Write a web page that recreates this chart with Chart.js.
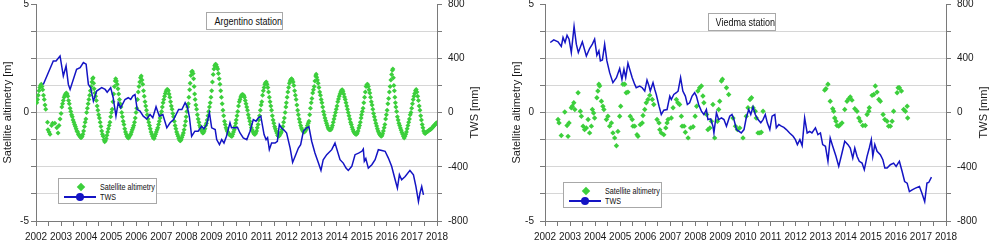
<!DOCTYPE html>
<html><head><meta charset="utf-8">
<script src="https://cdn.jsdelivr.net/npm/chart.js@4.4.1/dist/chart.umd.min.js"></script>
<style>
html,body{margin:0;padding:0;background:#fff;overflow:hidden}
#wrap{position:relative;width:989px;height:243px;background:#fff;font-family:"Liberation Sans",Arial,sans-serif}
canvas{position:absolute;top:0}
.tbox{position:absolute;border:1px solid #a8a8a8;background:#fff;box-sizing:border-box;text-align:center;color:#111;white-space:nowrap;overflow:hidden}
.tbox span{display:inline-block;transform:scaleX(0.82);transform-origin:center}
.lbox{position:absolute;border:1px solid #a8a8a8;background:#fff;box-sizing:border-box}
.lbox div{position:absolute}
.ltxt{color:#111;white-space:nowrap;line-height:10px;transform:scaleX(0.8);transform-origin:left center}
</style></head>
<body>
<div id="wrap">
  <canvas id="cA" width="494" height="243" style="left:0px"></canvas>
  <canvas id="cV" width="495" height="243" style="left:494px"></canvas>
</div>
<script>
// ---------------- DATA ----------------
const yearRange = [2002, 2018];
const altimetryRange = [-5, 5];
const twsRange = [-800, 800];
const stationNames = ['Argentino station', 'Viedma station'];
const seriesNames = ['Satellite altimetry', 'TWS'];

// Argentino: satellite altimetry [m] (decimal year, value)
const argentinoAltimetry = [
[2002.00,0.5],[2002.03,0.45],[2002.06,0.6],[2002.09,0.8],[2002.12,1.0],[2002.15,1.15],[2002.18,1.25],[2002.21,1.3],[2002.24,1.2],[2002.27,1.05],[2002.30,0.8],[2002.33,0.6],[2002.36,0.35],[2002.39,0.15],[2002.46,-0.45],[2002.48,-0.8],[2002.52,-0.9],[2002.56,-1.0],[2002.62,-0.6],[2002.66,-0.5],[2002.75,-0.5],[2002.83,-0.7],[2002.88,-0.95],[2002.92,-0.6],[2002.96,-0.3],
[2003.00,-0.05],[2003.03,0.25],[2003.06,0.4],[2003.09,0.55],[2003.12,0.7],[2003.15,0.8],[2003.18,0.85],[2003.21,0.9],[2003.24,0.85],[2003.27,0.75],[2003.30,0.55],[2003.33,0.4],[2003.36,0.2],[2003.39,0.05],[2003.42,-0.1],[2003.45,-0.2],[2003.48,-0.35],[2003.51,-0.45],[2003.54,-0.55],[2003.57,-0.65],[2003.60,-0.75],[2003.63,-0.85],[2003.66,-0.9],[2003.69,-1.0],[2003.72,-1.05],[2003.75,-1.1],[2003.78,-1.15],[2003.81,-1.15],[2003.84,-1.1],[2003.87,-1.0],[2003.90,-0.85],[2003.93,-0.65],[2003.96,-0.45],[2003.99,-0.3],
[2004.02,0.0],[2004.05,0.2],[2004.08,0.4],[2004.11,0.6],[2004.14,0.8],[2004.17,1.0],[2004.20,1.2],[2004.23,1.4],[2004.26,1.55],[2004.28,1.6],[2004.30,1.35],[2004.32,1.1],[2004.35,0.9],[2004.38,0.75],[2004.41,0.55],[2004.44,0.3],[2004.47,0.1],[2004.50,-0.1],[2004.53,-0.25],[2004.56,-0.45],[2004.59,-0.65],[2004.62,-0.85],[2004.65,-1.0],[2004.68,-1.1],[2004.71,-1.25],[2004.74,-1.35],[2004.77,-1.3],[2004.80,-1.2],[2004.83,-1.05],[2004.86,-0.9],[2004.89,-0.75],[2004.92,-0.6],[2004.95,-0.45],[2004.98,-0.2],
[2005.01,0.0],[2005.04,0.15],[2005.07,0.5],[2005.10,0.85],[2005.13,1.2],[2005.16,1.45],[2005.18,1.55],[2005.21,1.45],[2005.24,1.3],[2005.27,1.1],[2005.30,0.85],[2005.33,0.6],[2005.36,0.4],[2005.39,0.25],[2005.42,0.0],[2005.45,-0.2],[2005.48,-0.4],[2005.51,-0.55],[2005.54,-0.75],[2005.57,-0.9],[2005.60,-1.0],[2005.63,-1.1],[2005.66,-1.15],[2005.69,-1.17],[2005.72,-1.12],[2005.75,-1.05],[2005.78,-1.0],[2005.81,-0.9],[2005.84,-0.8],[2005.87,-0.7],[2005.90,-0.6],[2005.93,-0.45],[2005.96,-0.25],[2005.99,0.0],
[2006.02,0.2],[2006.05,0.6],[2006.08,0.95],[2006.11,1.2],[2006.14,1.4],[2006.17,1.6],[2006.20,1.68],[2006.23,1.5],[2006.26,1.3],[2006.29,1.0],[2006.32,0.75],[2006.35,0.5],[2006.38,0.3],[2006.41,0.1],[2006.44,-0.1],[2006.47,-0.3],[2006.50,-0.45],[2006.53,-0.6],[2006.56,-0.75],[2006.59,-0.9],[2006.62,-1.0],[2006.65,-1.1],[2006.68,-1.18],[2006.71,-1.2],[2006.74,-1.1],[2006.77,-1.0],[2006.80,-0.9],[2006.83,-0.8],[2006.86,-0.7],[2006.89,-0.55],[2006.92,-0.4],[2006.95,-0.25],[2006.98,-0.1],
[2007.01,0.05],[2007.04,0.25],[2007.07,0.45],[2007.10,0.6],[2007.13,0.75],[2007.16,0.88],[2007.19,0.98],[2007.22,1.05],[2007.25,1.06],[2007.28,1.0],[2007.31,0.85],[2007.34,0.7],[2007.37,0.5],[2007.40,0.3],[2007.43,0.15],[2007.46,-0.05],[2007.49,-0.2],[2007.52,-0.4],[2007.55,-0.6],[2007.58,-0.75],[2007.61,-0.9],[2007.64,-1.0],[2007.67,-1.1],[2007.70,-1.2],[2007.73,-1.28],[2007.76,-1.3],[2007.79,-1.25],[2007.82,-1.15],[2007.85,-1.05],[2007.88,-0.95],[2007.91,-0.8],[2007.94,-0.6],[2007.97,-0.4],[2007.99,-0.2],
[2008.02,0.05],[2008.05,0.25],[2008.08,0.4],[2008.10,0.7],[2008.13,1.05],[2008.15,1.35],[2008.18,1.7],[2008.21,1.88],[2008.24,1.9],[2008.27,1.8],[2008.29,1.55],[2008.31,1.2],[2008.33,0.85],[2008.35,0.6],[2008.38,0.35],[2008.41,0.15],[2008.44,-0.1],[2008.47,-0.3],[2008.50,-0.45],[2008.53,-0.6],[2008.56,-0.7],[2008.59,-0.8],[2008.62,-0.88],[2008.65,-0.95],[2008.68,-0.93],[2008.71,-0.85],[2008.74,-0.75],[2008.77,-0.6],[2008.80,-0.5],[2008.83,-0.35],[2008.86,-0.15],[2008.89,0.05],[2008.92,0.25],[2008.95,0.45],[2008.98,0.7],
[2009.01,1.0],[2009.04,1.4],[2009.07,1.75],[2009.10,2.0],[2009.13,2.15],[2009.16,2.22],[2009.19,2.2],[2009.22,2.1],[2009.25,2.0],[2009.28,1.8],[2009.31,1.55],[2009.34,1.3],[2009.37,1.0],[2009.40,0.7],[2009.43,0.4],[2009.46,0.1],[2009.49,-0.15],[2009.52,-0.4],[2009.55,-0.55],[2009.58,-0.7],[2009.61,-0.8],[2009.64,-0.88],[2009.67,-0.95],[2009.70,-1.0],[2009.73,-1.03],[2009.76,-1.05],[2009.79,-1.1],[2009.82,-1.1],[2009.85,-1.0],[2009.88,-0.9],[2009.91,-0.8],[2009.94,-0.65],[2009.97,-0.5],[2009.99,-0.35],
[2010.02,-0.15],[2010.05,0.05],[2010.08,0.3],[2010.11,0.5],[2010.14,0.6],[2010.17,0.72],[2010.20,0.8],[2010.23,0.83],[2010.26,0.82],[2010.29,0.78],[2010.32,0.7],[2010.35,0.55],[2010.38,0.4],[2010.41,0.25],[2010.44,0.1],[2010.47,-0.1],[2010.50,-0.25],[2010.53,-0.4],[2010.56,-0.55],[2010.59,-0.7],[2010.62,-0.8],[2010.65,-0.88],[2010.68,-0.95],[2010.71,-1.0],[2010.74,-1.0],[2010.77,-0.95],[2010.80,-0.85],[2010.83,-0.7],[2010.86,-0.55],[2010.89,-0.35],[2010.92,-0.15],[2010.95,0.1],[2010.98,0.35],
[2011.01,0.5],[2011.04,0.8],[2011.07,1.0],[2011.10,1.15],[2011.13,1.3],[2011.16,1.37],[2011.19,1.4],[2011.22,1.3],[2011.25,1.15],[2011.28,0.95],[2011.31,0.7],[2011.34,0.5],[2011.37,0.3],[2011.40,0.1],[2011.43,-0.15],[2011.46,-0.35],[2011.49,-0.5],[2011.52,-0.65],[2011.55,-0.75],[2011.58,-0.85],[2011.61,-0.95],[2011.64,-1.05],[2011.67,-1.1],[2011.70,-1.08],[2011.73,-1.03],[2011.76,-0.97],[2011.79,-0.9],[2011.82,-0.78],[2011.85,-0.65],[2011.88,-0.45],[2011.91,-0.25],[2011.94,0.0],[2011.97,0.25],[2011.99,0.45],
[2012.02,0.7],[2012.05,0.95],[2012.08,1.15],[2012.11,1.35],[2012.14,1.45],[2012.17,1.52],[2012.20,1.55],[2012.23,1.5],[2012.26,1.4],[2012.29,1.25],[2012.32,1.0],[2012.35,0.8],[2012.38,0.6],[2012.41,0.35],[2012.44,0.1],[2012.47,-0.1],[2012.50,-0.3],[2012.53,-0.45],[2012.56,-0.6],[2012.59,-0.72],[2012.62,-0.8],[2012.65,-0.85],[2012.68,-0.9],[2012.71,-0.9],[2012.74,-0.85],[2012.77,-0.8],[2012.80,-0.72],[2012.83,-0.6],[2012.86,-0.5],[2012.89,-0.4],[2012.92,-0.1],[2012.95,0.2],[2012.98,0.45],
[2013.01,0.65],[2013.04,0.9],[2013.07,1.05],[2013.10,1.2],[2013.13,1.45],[2013.16,1.68],[2013.18,1.76],[2013.20,1.62],[2013.23,1.5],[2013.26,1.35],[2013.29,1.15],[2013.32,0.95],[2013.35,0.8],[2013.38,0.6],[2013.41,0.45],[2013.44,0.25],[2013.47,0.05],[2013.50,-0.1],[2013.53,-0.25],[2013.56,-0.38],[2013.59,-0.5],[2013.62,-0.6],[2013.65,-0.7],[2013.68,-0.77],[2013.71,-0.8],[2013.74,-0.8],[2013.77,-0.78],[2013.80,-0.7],[2013.83,-0.6],[2013.86,-0.45],[2013.89,-0.3],[2013.92,-0.15],[2013.95,0.0],[2013.98,0.15],
[2014.01,0.3],[2014.04,0.5],[2014.07,0.62],[2014.10,0.75],[2014.13,0.85],[2014.16,0.95],[2014.19,1.02],[2014.22,1.05],[2014.25,0.98],[2014.28,0.85],[2014.31,0.72],[2014.34,0.6],[2014.37,0.45],[2014.40,0.3],[2014.43,0.15],[2014.46,0.0],[2014.49,-0.15],[2014.52,-0.3],[2014.55,-0.45],[2014.58,-0.55],[2014.61,-0.68],[2014.64,-0.78],[2014.67,-0.87],[2014.70,-0.93],[2014.73,-0.98],[2014.76,-1.0],[2014.79,-1.0],[2014.82,-0.95],[2014.85,-0.85],[2014.88,-0.72],[2014.91,-0.6],[2014.94,-0.45],[2014.97,-0.25],[2014.99,-0.1],
[2015.02,0.05],[2015.05,0.2],[2015.08,0.45],[2015.11,0.7],[2015.14,0.95],[2015.17,1.2],[2015.20,1.28],[2015.23,1.3],[2015.26,1.2],[2015.29,1.05],[2015.32,0.9],[2015.35,0.7],[2015.38,0.5],[2015.41,0.35],[2015.44,0.15],[2015.47,-0.05],[2015.50,-0.2],[2015.53,-0.35],[2015.56,-0.5],[2015.59,-0.62],[2015.62,-0.75],[2015.65,-0.85],[2015.68,-0.93],[2015.71,-1.0],[2015.74,-1.05],[2015.77,-1.1],[2015.80,-1.07],[2015.83,-0.98],[2015.86,-0.85],[2015.89,-0.7],[2015.92,-0.55],[2015.95,-0.3],[2015.98,-0.1],
[2016.01,0.1],[2016.04,0.4],[2016.07,0.65],[2016.10,0.95],[2016.13,1.2],[2016.16,1.5],[2016.19,1.75],[2016.22,1.95],[2016.24,2.0],[2016.26,1.6],[2016.28,1.25],[2016.30,1.0],[2016.32,0.7],[2016.34,0.45],[2016.36,0.25],[2016.39,0.05],[2016.42,-0.2],[2016.45,-0.35],[2016.48,-0.5],[2016.51,-0.6],[2016.54,-0.72],[2016.57,-0.82],[2016.60,-0.92],[2016.63,-1.0],[2016.66,-1.1],[2016.69,-1.17],[2016.72,-1.1],[2016.75,-1.0],[2016.78,-0.9],[2016.81,-0.75],[2016.84,-0.6],[2016.87,-0.45],[2016.90,-0.3],[2016.93,-0.1],[2016.96,0.0],[2016.99,0.2],
[2017.02,0.4],[2017.05,0.6],[2017.08,0.75],[2017.11,0.88],[2017.14,1.0],[2017.17,1.06],[2017.20,0.95],[2017.23,0.75],[2017.26,0.55],[2017.29,0.3],[2017.32,0.1],[2017.35,-0.15],[2017.38,-0.35],[2017.41,-0.55],[2017.44,-0.7],[2017.47,-0.85],[2017.50,-0.95],[2017.53,-0.97],[2017.56,-0.92],[2017.59,-0.9],[2017.62,-0.88],[2017.65,-0.85],[2017.68,-0.82],[2017.71,-0.8],[2017.74,-0.78],[2017.77,-0.75],[2017.80,-0.72],[2017.83,-0.68],[2017.86,-0.62],[2017.89,-0.6],[2017.92,-0.57],[2017.95,-0.52],[2017.98,-0.47]
];

// Argentino: TWS [mm]
const argentinoTWS = [
[2002.29,207],[2002.69,380],[2002.80,380],[2002.96,417],[2003.09,269],[2003.20,343],[2003.29,207],[2003.36,170],[2003.62,318],[2003.76,331],[2003.89,368],[2004.00,356],[2004.09,207],[2004.18,183],[2004.29,84],[2004.42,158],[2004.62,183],[2004.76,170],[2004.84,150],[2004.98,183],
[2005.08,109],[2005.19,-27],[2005.28,72],[2005.38,35],[2005.55,96],[2005.68,109],[2005.78,96],[2005.86,121],[2005.95,133],[2006.04,22],[2006.15,10],[2006.28,-27],[2006.42,-47],[2006.55,-15],[2006.66,-39],[2006.79,42],[2006.92,-27],[2007.06,-15],[2007.22,-113],[2007.35,-76],[2007.49,-52],[2007.69,22],[2007.82,22],[2007.95,72],[2008.04,40],
[2008.12,-32],[2008.21,-175],[2008.34,-138],[2008.47,-138],[2008.61,-101],[2008.70,-120],[2008.81,-89],[2008.92,-2],[2009.01,-113],[2009.15,-126],[2009.21,-200],[2009.32,-237],[2009.41,-200],[2009.50,-225],[2009.60,-175],[2009.74,-76],[2009.80,-113],[2009.94,-113],[2010.04,-110],[2010.14,-151],[2010.27,-188],[2010.41,-200],[2010.54,-138],[2010.67,-52],[2010.78,-64],[2010.87,-39],[2010.97,-27],
[2011.10,-163],[2011.18,-200],[2011.24,-185],[2011.31,-274],[2011.40,-225],[2011.54,-225],[2011.63,-212],[2011.71,-89],[2011.79,-113],[2011.94,-138],[2012.00,-151],[2012.14,-262],[2012.24,-368],[2012.34,-323],[2012.47,-262],[2012.56,-237],[2012.67,-138],[2012.80,-113],[2012.89,-106],
[2013.00,-212],[2013.13,-299],[2013.27,-373],[2013.37,-427],[2013.46,-348],[2013.60,-311],[2013.80,-274],[2013.93,-225],[2014.13,-348],[2014.26,-373],[2014.37,-410],[2014.46,-427],[2014.60,-397],[2014.73,-311],[2014.87,-300],[2015.00,-286],[2015.06,-269],[2015.10,-360],[2015.16,-340],[2015.26,-410],[2015.40,-385],[2015.53,-348],[2015.66,-274],[2015.80,-280],[2015.93,-286],
[2016.06,-336],[2016.19,-397],[2016.33,-496],[2016.42,-558],[2016.50,-459],[2016.59,-496],[2016.73,-472],[2016.92,-427],[2017.06,-459],[2017.16,-546],[2017.26,-657],[2017.32,-595],[2017.39,-546],[2017.46,-607]
];

// Viedma: satellite altimetry [m]
const viedmaAltimetry = [
[2002.52,-0.32],[2002.56,-0.48],[2002.65,-1.06],[2002.79,0.02],[2002.88,-0.6],[2002.92,-1.1],[2002.96,-0.48],[2003.05,0.22],[2003.09,0.29],[2003.15,0.45],[2003.19,0.14],[2003.32,0.91],[2003.41,0.06],[2003.45,-0.17],[2003.52,-0.63],[2003.58,-0.79],[2003.65,-0.71],[2003.72,-0.32],[2003.78,-0.94],[2003.85,-0.63],[2003.89,0.14],[2003.94,-0.02],[2003.98,-0.25],
[2004.07,0.68],[2004.11,0.99],[2004.15,1.3],[2004.18,1.22],[2004.25,0.52],[2004.31,0.29],[2004.35,0.14],[2004.45,-0.32],[2004.51,-0.17],[2004.58,-0.63],[2004.65,-0.48],[2004.71,-0.94],[2004.78,-1.17],[2004.85,-1.53],[2004.91,-0.87],[2004.98,-0.17],
[2005.02,0.29],[2005.11,1.3],[2005.18,1.3],[2005.24,0.91],[2005.31,0.94],[2005.40,-0.17],[2005.48,-0.32],[2005.51,-0.63],[2005.58,-0.63],[2005.67,-1.02],[2005.71,-1.1],[2005.80,-0.56],[2005.88,-0.48],[2005.91,-0.14],[2005.98,0.14],
[2006.04,0.45],[2006.11,0.6],[2006.18,0.79],[2006.28,0.6],[2006.34,0.37],[2006.47,-0.32],[2006.55,-0.48],[2006.58,-0.79],[2006.64,-0.94],[2006.74,-1.02],[2006.82,-0.71],[2006.87,-0.48],[2006.91,-0.32],
[2007.04,-0.25],[2007.11,0.22],[2007.24,0.6],[2007.30,0.45],[2007.37,0.37],[2007.44,-0.17],[2007.47,-0.63],[2007.55,-0.63],[2007.60,-0.91],[2007.71,-1.17],[2007.81,-0.71],[2007.91,-0.66],[2007.99,-0.17],
[2008.05,0.29],[2008.10,0.99],[2008.17,1.14],[2008.24,1.22],[2008.30,0.76],[2008.34,0.45],[2008.45,-0.09],[2008.50,-0.79],[2008.58,-0.71],[2008.64,-0.4],[2008.70,0.37],[2008.77,-1.17],[2008.88,-0.4],[2008.93,0.14],[2008.97,0.52],
[2009.04,1.45],[2009.08,1.53],[2009.24,1.14],[2009.33,0.83],[2009.50,-0.25],[2009.60,-0.63],[2009.68,-0.79],[2009.77,-0.71],[2009.90,-1.17],
[2010.03,-0.17],[2010.10,0.22],[2010.18,0.6],[2010.24,0.68],[2010.30,0.22],[2010.39,0.06],[2010.43,-0.25],[2010.50,-0.94],[2010.57,-0.94],[2010.63,-0.91],[2010.70,0.06],
[2013.16,1.03],[2013.21,1.1],[2013.29,1.3],[2013.38,0.52],[2013.48,0.17],[2013.52,0.06],[2013.56,-0.25],[2013.61,-0.4],[2013.65,-0.6],[2013.72,-0.63],[2013.78,-0.56],[2013.85,-0.48],[2013.96,0.14],
[2014.05,0.52],[2014.12,0.63],[2014.18,0.72],[2014.25,0.57],[2014.36,0.17],[2014.45,0.06],[2014.52,-0.25],[2014.58,-0.4],[2014.68,-0.6],[2014.78,-0.6],[2014.85,-0.09],[2014.92,0.06],[2014.94,0.22],
[2015.05,0.79],[2015.12,0.83],[2015.18,1.22],[2015.25,0.94],[2015.32,0.6],[2015.38,0.52],[2015.49,-0.09],[2015.56,-0.32],[2015.65,-0.4],[2015.71,-0.63],[2015.78,-0.63],[2015.85,-0.4],[2015.91,0.06],
[2016.05,0.91],[2016.09,1.14],[2016.14,1.14],[2016.22,0.99],[2016.31,0.14],[2016.38,0.06],[2016.45,0.29],[2016.47,-0.25]
];

// Viedma: TWS [mm]
const viedmaTWS = [
[2002.21,516],[2002.35,536],[2002.52,521],[2002.65,487],[2002.72,553],[2002.80,516],[2002.88,570],[2002.96,541],[2003.05,442],[2003.16,635],[2003.25,504],[2003.33,442],[2003.49,521],[2003.65,417],[2003.78,472],[2003.89,504],[2003.98,541],
[2004.07,422],[2004.15,454],[2004.21,380],[2004.29,387],[2004.38,504],[2004.47,380],[2004.58,294],[2004.71,220],[2004.85,257],[2004.98,324],[2005.07,244],[2005.15,319],[2005.22,257],[2005.31,363],[2005.40,306],[2005.48,257],[2005.58,207],[2005.64,183],[2005.78,195],[2005.88,183],[2005.98,158],
[2006.07,239],[2006.15,195],[2006.20,158],[2006.31,220],[2006.38,170],[2006.44,133],[2006.55,47],[2006.64,-15],[2006.74,17],[2006.87,22],[2006.98,121],[2007.04,96],[2007.14,133],[2007.24,146],[2007.31,158],[2007.41,257],[2007.50,158],[2007.60,121],[2007.68,59],[2007.77,72],[2007.87,121],[2007.97,146],
[2008.04,121],[2008.13,59],[2008.24,10],[2008.34,-15],[2008.44,22],[2008.50,-52],[2008.61,-47],[2008.70,-101],[2008.74,-151],[2008.84,-2],[2008.93,-52],[2009.04,-39],[2009.14,-52],[2009.24,-101],[2009.37,-27],[2009.46,-15],[2009.54,-52],[2009.64,-126],[2009.73,-138],[2009.83,-151],[2009.94,-126],
[2010.03,-39],[2010.13,22],[2010.21,-15],[2010.30,42],[2010.39,-15],[2010.50,-52],[2010.61,-76],[2010.70,-52],[2010.79,-15],[2010.87,-76],[2010.97,-126],[2011.06,-27],[2011.17,-15],[2011.23,-113],[2011.33,-89],[2011.43,-101],[2011.53,-110],[2011.63,-126],[2011.76,-151],[2011.90,-175],[2011.99,-200],
[2012.07,-237],[2012.17,-200],[2012.26,-244],[2012.36,-40],[2012.46,-151],[2012.56,-140],[2012.65,-151],[2012.79,-113],[2012.89,-163],[2012.99,-151],[2013.08,-237],[2013.19,-249],[2013.29,-360],[2013.38,-188],[2013.48,-249],[2013.61,-323],[2013.72,-397],[2013.85,-299],[2013.96,-212],
[2014.09,-237],[2014.18,-262],[2014.28,-336],[2014.36,-262],[2014.45,-323],[2014.54,-360],[2014.65,-373],[2014.74,-422],[2014.85,-323],[2014.94,-262],[2015.02,-200],[2015.08,-323],[2015.16,-237],[2015.25,-286],[2015.38,-311],[2015.48,-348],[2015.56,-410],[2015.65,-410],[2015.78,-385],[2015.91,-373],
[2016.01,-397],[2016.09,-373],[2016.14,-360],[2016.25,-435],[2016.35,-509],[2016.45,-521],[2016.54,-583],[2016.65,-570],[2016.78,-558],[2016.94,-546],[2017.04,-595],[2017.15,-657],[2017.24,-521],[2017.31,-516],[2017.42,-477]
];

// ---------------- STYLE ----------------
const GREEN = '#3ccf3c';
const BLUE = '#1414c4';
const AXIS = '#7a7a7a';
const GRID = '#d6d6d6';
const TXT = '#1a1a1a';
const FONT = '"Liberation Sans", Arial, sans-serif';

const rightTitle = {
  id: 'rightTitle',
  afterDraw(chart, args, o) {
    const s = chart.scales.y1, ctx = chart.ctx;
    ctx.save();
    ctx.translate(s.right - o.offset, (s.top + s.bottom) / 2);
    ctx.rotate(-Math.PI / 2);
    ctx.font = '11px ' + FONT;
    ctx.fillStyle = TXT;
    ctx.textAlign = 'center';
    ctx.textBaseline = 'middle';
    ctx.fillText(o.text, 0, 0);
    ctx.restore();
  }
};

function makeChart(id, alt, tws, L) {
  const tickFont = { family: FONT, size: 10 };
  return new Chart(document.getElementById(id), {
    type: 'scatter',
    data: { datasets: [
      { type: 'line', label: seriesNames[1], data: tws.map(([x, y]) => ({ x, y })), yAxisID: 'y1',
        borderColor: BLUE, borderWidth: 1.5, pointRadius: 0, fill: false, tension: 0, order: 0 },
      { type: 'scatter', label: seriesNames[0], data: alt.map(([x, y]) => ({ x, y })), yAxisID: 'y',
        pointStyle: 'rectRot', pointRadius: L.markerRadius, backgroundColor: GREEN, borderColor: GREEN, borderWidth: 0, order: 1 }
    ]},
    options: {
      responsive: false, animation: false, events: [],
      layout: { padding: 0 },
      plugins: { legend: { display: false }, tooltip: { enabled: false }, rightTitle: { text: 'TWS [mm]', offset: L.rtOffset } },
      scales: {
        x: { type: 'linear', position: 'bottom', min: yearRange[0], max: yearRange[1],
          afterFit: s => { s.height = 22; s.paddingLeft = 0; s.paddingRight = 0; },
          ticks: { stepSize: 0.5, autoSkip: false, maxRotation: 0, minRotation: 0, padding: 5, color: TXT, font: tickFont,
            callback: v => Number.isInteger(v) ? String(v) : '' },
          grid: { drawOnChartArea: false, drawTicks: true, tickLength: 5, tickColor: AXIS },
          border: { color: AXIS, width: 1 } },
        y: { position: 'left', min: altimetryRange[0], max: altimetryRange[1],
          afterFit: s => { s.width = L.yWidth; s.paddingTop = 0; s.paddingBottom = 0; },
          ticks: { stepSize: 1.25, autoSkip: false, padding: L.yPad, color: TXT, font: tickFont,
            callback: v => (v === 5 || v === 0 || v === -5) ? String(v) : '' },
          grid: { drawOnChartArea: false, drawTicks: true, tickLength: 5, tickColor: AXIS },
          border: { color: AXIS, width: 1 },
          title: { display: true, text: 'Satellite altimetry [m]', color: TXT, font: { family: FONT, size: 11 }, padding: { top: L.yTitlePad, bottom: 0 } } },
        y1: { position: 'right', min: twsRange[0], max: twsRange[1],
          afterFit: s => { s.width = L.y1Width; s.paddingTop = 0; s.paddingBottom = 0; },
          ticks: { stepSize: 200, autoSkip: false, padding: 6, color: TXT, font: tickFont,
            callback: v => (v % 400 === 0) ? String(v) : '' },
          grid: { drawOnChartArea: true, drawTicks: true, tickLength: 5, tickColor: AXIS,
            color: c => (c.tick && Math.abs(c.tick.value) === 800) ? 'rgba(0,0,0,0)' : GRID },
          border: { color: AXIS, width: 1 } }
      }
    },
    plugins: [rightTitle]
  });
}

makeChart('cA', argentinoAltimetry, argentinoTWS, { yWidth: 36, y1Width: 57, yPad: 2, yTitlePad: 1, rtOffset: 19, markerRadius: 2.5 });
makeChart('cV', viedmaAltimetry, viedmaTWS, { yWidth: 51, y1Width: 43, yPad: 6, yTitlePad: 16, rtOffset: 5, markerRadius: 2.7 });

// ---------------- OVERLAYS (title boxes + legends) ----------------
const wrap = document.getElementById('wrap');
function el(cls, css, parent, text) {
  const d = document.createElement('div'); if (cls) d.className = cls;
  d.style.cssText = css; if (text) d.textContent = text; (parent || wrap).appendChild(d); return d;
}
function titleBox(name, left, top, w, h) {
  const b = el('tbox', `left:${left}px;top:${top}px;width:${w}px;height:${h}px;line-height:${h - 2}px;font-size:11px;`);
  const s = document.createElement('span'); s.textContent = name; b.appendChild(s);
}
function legend(left, top) {
  const b = el('lbox', `left:${left}px;top:${top}px;width:99px;height:26px;`);
  el('', `left:19px;top:5px;width:6px;height:6px;background:${GREEN};transform:rotate(45deg);`, b);
  el('ltxt', `left:41px;top:3px;font-size:9px;`, b, seriesNames[0]);
  el('', `left:5px;top:17px;width:32px;height:1.5px;background:${BLUE};`, b);
  el('', `left:17px;top:14px;width:8px;height:8px;border-radius:50%;background:${BLUE};`, b);
  el('ltxt', `left:41px;top:13px;font-size:9px;`, b, seriesNames[1]);
}
titleBox(stationNames[0], 206, 12, 77, 18);
titleBox(stationNames[1], 708, 13, 68, 18);
legend(58, 178);
legend(563, 182);
</script>
</body></html>
